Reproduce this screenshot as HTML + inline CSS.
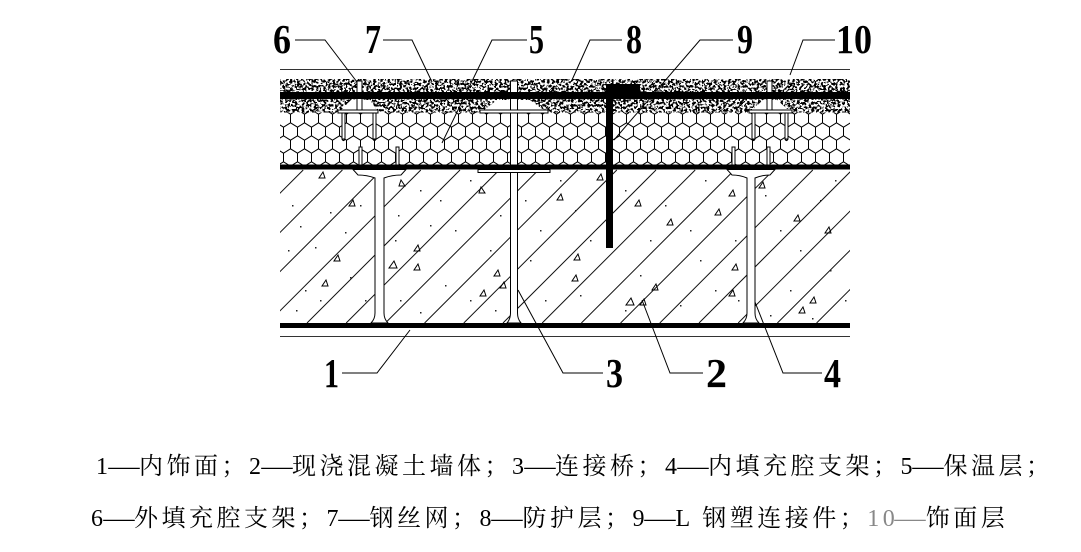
<!DOCTYPE html>
<html><head><meta charset="utf-8">
<style>
html,body{margin:0;padding:0;background:#fff;}
body{width:1081px;height:552px;position:relative;overflow:hidden;}
svg{position:absolute;left:0;top:0;}
.cap{position:absolute;font-family:"Liberation Serif","Noto Serif CJK SC",serif;font-size:24px;letter-spacing:3.5px;white-space:nowrap;color:#000;line-height:24px;}
.d{display:inline-block;letter-spacing:0;margin-right:3.5px;transform:scaleX(1.3);}
.g{color:#888;}
</style></head><body>
<svg width="1081" height="552" viewBox="0 0 1081 552">
<defs>
<filter id="stip" filterUnits="userSpaceOnUse" x="280" y="79" width="570" height="34" color-interpolation-filters="sRGB">
 <feTurbulence type="fractalNoise" baseFrequency="0.42" numOctaves="2" seed="5"/>
 <feColorMatrix type="matrix" values="0 0 0 0 0  0 0 0 0 0  0 0 0 0 0  -14 0 0 0 7.4"/>
</filter>
<pattern id="hex" patternUnits="userSpaceOnUse" x="280" y="112" width="14" height="26">
 <path d="M3.5,-2.17 L10.5,2.17 L10.5,10.83 L3.5,15.17 L-3.5,10.83 L-3.5,2.17Z M17.5,-2.17 L24.5,2.17 L24.5,10.83 L17.5,15.17 L10.5,10.83 L10.5,2.17Z M10.5,10.83 L17.5,15.17 L17.5,23.83 L10.5,28.17 L3.5,23.83 L3.5,15.17Z M-3.5,10.83 L3.5,15.17 L3.5,23.83 L-3.5,28.17 L-10.5,23.83 L-10.5,15.17Z" fill="none" stroke="#000" stroke-width="1"/>
</pattern>
<clipPath id="conc"><rect x="280" y="169.5" width="570" height="153.5"/></clipPath>
</defs>

<line x1="280" y1="69.5" x2="850" y2="69.5" stroke="#333" stroke-width="1"/>

<rect x="280" y="79" width="570" height="34" fill="#fff"/>
<rect x="280" y="79" width="570" height="34" fill="#000" filter="url(#stip)"/>

<polygon points="338,113 351,100 370,100 379,113" fill="#fff"/>
<polygon points="480,113 497,100 530,100 548,113" fill="#fff"/>
<polygon points="749,113 763,100 777,100 792,113" fill="#fff"/>

<rect x="357" y="81" width="5" height="29" fill="#fff" stroke="#000" stroke-width="1"/>
<rect x="767" y="81" width="5" height="29" fill="#fff" stroke="#000" stroke-width="1"/>

<rect x="280" y="92" width="570" height="7" fill="#000"/>

<rect x="280" y="112.5" width="570" height="52.5" fill="#fff"/>
<rect x="280" y="112.5" width="570" height="52.5" fill="url(#hex)"/>

<rect x="510.5" y="81" width="7" height="84" fill="#fff" stroke="#000" stroke-width="1"/>
<rect x="505" y="92" width="18" height="7" fill="#000"/>

<rect x="338" y="110" width="40" height="3" fill="#fff" stroke="#000" stroke-width="1"/>
<rect x="480" y="110" width="68" height="3" fill="#fff" stroke="#000" stroke-width="1"/>
<rect x="749" y="110" width="43" height="3" fill="#fff" stroke="#000" stroke-width="1"/>

<g fill="#fff" stroke="#000" stroke-width="1">
<rect x="342" y="113" width="3" height="26"/>
<rect x="373" y="113" width="3" height="26"/>
<rect x="752" y="113" width="3" height="26"/>
<rect x="785" y="113" width="3" height="26"/>
<rect x="359" y="147" width="3" height="18"/>
<rect x="396" y="147" width="3" height="18"/>
<rect x="732" y="147" width="3" height="18"/>
<rect x="767" y="147" width="3" height="18"/>
</g>
<g fill="none" stroke="#000" stroke-width="1.2">
<path d="M342,139 q1.5,3 3,0"/><path d="M373,139 q1.5,3 3,0"/>
<path d="M752,139 q1.5,3 3,0"/><path d="M785,139 q1.5,3 3,0"/>
</g>

<rect x="606" y="84" width="34" height="15" fill="#000"/>

<rect x="280" y="164.5" width="570" height="5" fill="#000"/>

<g clip-path="url(#conc)" stroke="#111" stroke-width="1">
<line x1="303.2" y1="170" x2="150.2" y2="323"/>
<line x1="342.4" y1="170" x2="189.4" y2="323"/>
<line x1="381.6" y1="170" x2="228.6" y2="323"/>
<line x1="420.8" y1="170" x2="267.8" y2="323"/>
<line x1="460" y1="170" x2="307" y2="323"/>
<line x1="499.2" y1="170" x2="346.2" y2="323"/>
<line x1="538.4" y1="170" x2="385.4" y2="323"/>
<line x1="577.6" y1="170" x2="424.6" y2="323"/>
<line x1="616.8" y1="170" x2="463.8" y2="323"/>
<line x1="656" y1="170" x2="503" y2="323"/>
<line x1="695.2" y1="170" x2="542.2" y2="323"/>
<line x1="734.4" y1="170" x2="581.4" y2="323"/>
<line x1="773.6" y1="170" x2="620.6" y2="323"/>
<line x1="812.8" y1="170" x2="659.8" y2="323"/>
<line x1="852" y1="170" x2="699" y2="323"/>
<line x1="891.2" y1="170" x2="738.2" y2="323"/>
<line x1="930.4" y1="170" x2="777.4" y2="323"/>
<line x1="969.6" y1="170" x2="816.6" y2="323"/>
</g>

<g fill="#222">
<rect x="292" y="205" width="1.5" height="1.5"/><rect x="300" y="226" width="1.5" height="1.5"/><rect x="288" y="250" width="1.5" height="1.5"/>
<rect x="315" y="247" width="1.5" height="1.5"/><rect x="330" y="212" width="1.5" height="1.5"/><rect x="345" y="232" width="1.5" height="1.5"/>
<rect x="360" y="205" width="1.5" height="1.5"/><rect x="305" y="290" width="1.5" height="1.5"/><rect x="296" y="310" width="1.5" height="1.5"/>
<rect x="320" y="300" width="1.5" height="1.5"/><rect x="350" y="277" width="1.5" height="1.5"/><rect x="365" y="300" width="1.5" height="1.5"/>
<rect x="398" y="215" width="1.5" height="1.5"/><rect x="420" y="190" width="1.5" height="1.5"/><rect x="440" y="200" width="1.5" height="1.5"/>
<rect x="455" y="230" width="1.5" height="1.5"/><rect x="470" y="180" width="1.5" height="1.5"/><rect x="395" y="240" width="1.5" height="1.5"/>
<rect x="430" y="225" width="1.5" height="1.5"/><rect x="445" y="285" width="1.5" height="1.5"/><rect x="470" y="300" width="1.5" height="1.5"/>
<rect x="490" y="250" width="1.5" height="1.5"/><rect x="500" y="215" width="1.5" height="1.5"/><rect x="495" y="310" width="1.5" height="1.5"/>
<rect x="400" y="300" width="1.5" height="1.5"/><rect x="420" y="312" width="1.5" height="1.5"/><rect x="525" y="200" width="1.5" height="1.5"/>
<rect x="540" y="230" width="1.5" height="1.5"/><rect x="560" y="180" width="1.5" height="1.5"/><rect x="575" y="210" width="1.5" height="1.5"/>
<rect x="590" y="240" width="1.5" height="1.5"/><rect x="530" y="260" width="1.5" height="1.5"/><rect x="545" y="300" width="1.5" height="1.5"/>
<rect x="580" y="295" width="1.5" height="1.5"/><rect x="625" y="190" width="1.5" height="1.5"/><rect x="650" y="240" width="1.5" height="1.5"/>
<rect x="665" y="205" width="1.5" height="1.5"/><rect x="690" y="230" width="1.5" height="1.5"/><rect x="700" y="260" width="1.5" height="1.5"/>
<rect x="715" y="290" width="1.5" height="1.5"/><rect x="680" y="305" width="1.5" height="1.5"/><rect x="640" y="275" width="1.5" height="1.5"/>
<rect x="625" y="310" width="1.5" height="1.5"/><rect x="705" y="180" width="1.5" height="1.5"/><rect x="735" y="240" width="1.5" height="1.5"/>
<rect x="738" y="300" width="1.5" height="1.5"/><rect x="765" y="195" width="1.5" height="1.5"/><rect x="780" y="230" width="1.5" height="1.5"/>
<rect x="800" y="250" width="1.5" height="1.5"/><rect x="820" y="200" width="1.5" height="1.5"/><rect x="835" y="180" width="1.5" height="1.5"/>
<rect x="790" y="290" width="1.5" height="1.5"/><rect x="830" y="270" width="1.5" height="1.5"/><rect x="845" y="300" width="1.5" height="1.5"/>
<rect x="770" y="315" width="1.5" height="1.5"/><rect x="812" y="318" width="1.5" height="1.5"/>
</g>

<g fill="none" stroke="#000" stroke-width="1">
<path d="M319,178 L325,178 L323,172 Z"/><path d="M399,186 L405,186 L401,180 Z"/><path d="M349,206 L355,206 L353,200 Z"/>
<path d="M479,193 L485,193 L481,187 Z"/><path d="M557,200 L563,200 L561,194 Z"/><path d="M414,251 L420,251 L418,245 Z"/>
<path d="M334,261 L340,261 L338,255 Z"/><path d="M389,268 L397,268 L394,261 Z"/><path d="M414,270 L420,270 L418,264 Z"/>
<path d="M322,286 L328,286 L326,280 Z"/><path d="M494,276 L500,276 L498,270 Z"/><path d="M500,288 L506,288 L504,282 Z"/>
<path d="M480,296 L486,296 L484,290 Z"/><path d="M597,180 L603,180 L601,174 Z"/><path d="M635,206 L641,206 L639,200 Z"/>
<path d="M667,225 L673,225 L671,219 Z"/><path d="M715,215 L721,215 L719,209 Z"/><path d="M729,196 L735,196 L733,190 Z"/>
<path d="M759,188 L765,188 L763,182 Z"/><path d="M794,221 L800,221 L798,215 Z"/><path d="M825,233 L831,233 L829,227 Z"/>
<path d="M574,260 L580,260 L578,254 Z"/><path d="M572,281 L578,281 L576,275 Z"/><path d="M732,270 L738,270 L736,264 Z"/>
<path d="M729,296 L735,296 L733,290 Z"/><path d="M652,290 L658,290 L656,284 Z"/><path d="M626,305 L634,305 L631,298 Z"/>
<path d="M640,305 L646,305 L644,299 Z"/><path d="M810,303 L816,303 L814,297 Z"/><path d="M799,313 L805,313 L803,307 Z"/>
</g>

<g fill="#fff" stroke="#000" stroke-width="1">
<path d="M353,169.5 L406,169.5 L401,175 Q392,175 384,178 L384,313 Q384,319 388,323 L371,323 Q375,319 375,313 L375,178 Q367,175 358,175 Z"/>
<rect x="478" y="169.5" width="72" height="3"/>
<path d="M510.5,172.5 L517.5,172.5 L517.5,313 Q517.5,319 521,323 L507,323 Q510.5,319 510.5,313 Z"/>
<path d="M727,169.5 L775,169.5 L770,175 Q762,175 755,178 L755,313 Q755,319 759,323 L743,323 Q747,319 747,313 L747,178 Q740,175 732,175 Z"/>
</g>

<rect x="606" y="84" width="7" height="164" fill="#000"/>

<rect x="280" y="323" width="570" height="5" fill="#000"/>
<line x1="280" y1="336.5" x2="850" y2="336.5" stroke="#333" stroke-width="1"/>

<g fill="none" stroke="#000" stroke-width="1">
<polyline points="295,40 325,40 357,82"/>
<polyline points="383,40 412,40 432,82"/>
<polyline points="527,40 492,40 442,143"/>
<polyline points="622,40 590,40 572,80"/>
<polyline points="733,40 700,40 614,140"/>
<polyline points="835,40 803,40 790,75"/>
<polyline points="342,373 377,373 410,330"/>
<polyline points="603,373 563,373 518,290"/>
<polyline points="703,373 670,373 642,300"/>
<polyline points="822,373 783,373 755,302"/>
</g>

<g font-family="'Liberation Serif', serif" font-weight="bold" font-size="41" fill="#000">
<text x="273" y="53" textLength="18" lengthAdjust="spacingAndGlyphs">6</text>
<text x="365" y="53" textLength="16" lengthAdjust="spacingAndGlyphs">7</text>
<text x="529" y="53" textLength="15" lengthAdjust="spacingAndGlyphs">5</text>
<text x="626" y="53" textLength="16" lengthAdjust="spacingAndGlyphs">8</text>
<text x="737" y="53" textLength="16" lengthAdjust="spacingAndGlyphs">9</text>
<text x="836" y="53" textLength="36" lengthAdjust="spacingAndGlyphs">10</text>
<text x="324" y="387" textLength="15" lengthAdjust="spacingAndGlyphs">1</text>
<text x="606" y="387" textLength="17" lengthAdjust="spacingAndGlyphs">3</text>
<text x="706" y="387" textLength="21" lengthAdjust="spacingAndGlyphs">2</text>
<text x="824" y="387" textLength="17" lengthAdjust="spacingAndGlyphs">4</text>
</g>
</svg>

<div class="cap" style="left:96px;top:455px;">1<span class="d">—</span>内饰面；2<span class="d">—</span>现浇混凝土墙体；3<span class="d">—</span>连接桥；4<span class="d">—</span>内填充腔支架；5<span class="d">—</span>保温层；</div>
<div class="cap" style="left:91px;top:507px;">6<span class="d">—</span>外填充腔支架；7<span class="d">—</span>钢丝网；8<span class="d">—</span>防护层；9<span class="d">—</span>L 钢塑连接件；<span class="g">10<span class="d">—</span></span>饰面层</div>
</body></html>
